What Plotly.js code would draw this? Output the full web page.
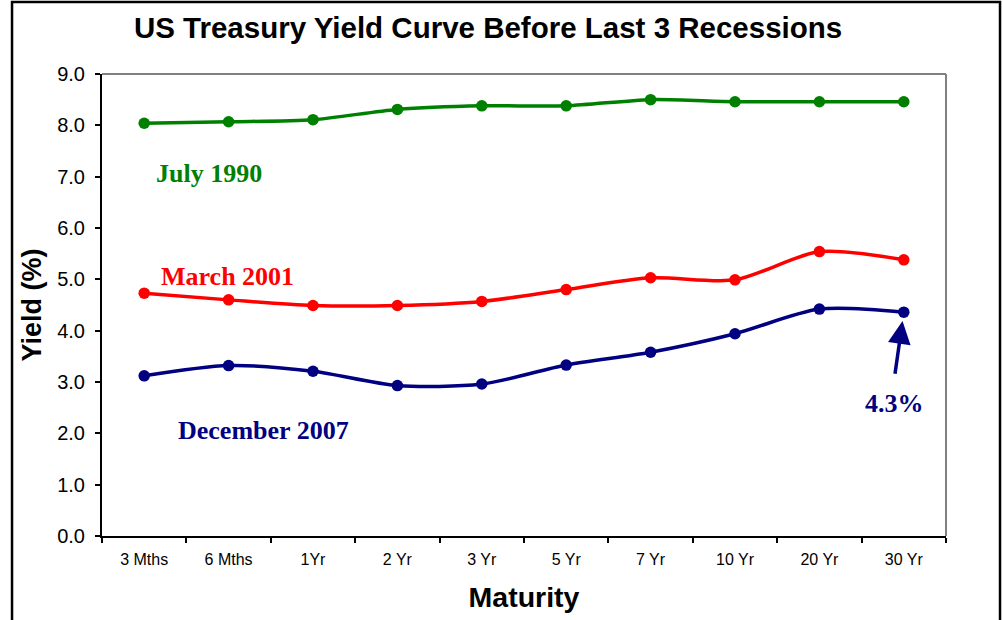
<!DOCTYPE html>
<html>
<head>
<meta charset="utf-8">
<script src="https://cdn.plot.ly/plotly-3.0.1.min.js"></script>
<style>
html,body{margin:0;padding:0;background:#fff;}
#chart{width:1003px;height:620px;}
</style>
</head>
<body>
<div id="chart"></div>
<script>
var maturities = ["3 Mths", "6 Mths", "1Yr", "2 Yr", "3 Yr", "5 Yr", "7 Yr", "10 Yr", "20 Yr", "30 Yr"];
var july1990 = [8.04, 8.07, 8.11, 8.31, 8.38, 8.38, 8.50, 8.46, 8.46, 8.46];
var march2001 = [4.73, 4.60, 4.49, 4.49, 4.57, 4.80, 5.03, 4.99, 5.54, 5.38];
var december2007 = [3.12, 3.32, 3.21, 2.93, 2.96, 3.33, 3.58, 3.94, 4.42, 4.36];
var seriesNames = ["July 1990", "March 2001", "December 2007"];
var seriesColors = ["#008000", "#FF0000", "#000080"];
var yTickVals = [0, 1, 2, 3, 4, 5, 6, 7, 8, 9];
var calloutText = "4.3%";

var seriesData = [july1990, march2001, december2007];
var traces = seriesData.map(function (vals, i) {
  return {
    type: "scatter",
    mode: "lines+markers",
    name: seriesNames[i],
    x: maturities,
    y: vals,
    line: {color: seriesColors[i], width: 3.5, shape: "spline", smoothing: 0.8},
    marker: {color: seriesColors[i], size: 11.5},
    cliponaxis: false
  };
});

var labelFont = function (c) {
  return {family: "Liberation Serif, Times New Roman, serif", size: 26, color: c, weight: "bold"};
};

var layout = {
  width: 1003,
  height: 620,
  margin: {l: 102, r: 57, t: 74, b: 84},
  paper_bgcolor: "#ffffff",
  plot_bgcolor: "#ffffff",
  showlegend: false,
  font: {family: "Liberation Sans, Arial, sans-serif", color: "#000"},
  title: {
    text: "<b>US Treasury Yield Curve Before Last 3 Recessions</b>",
    font: {family: "Liberation Sans, Arial, sans-serif", size: 29.5, color: "#000"},
    xref: "container", x: 0.4866, xanchor: "center",
    yref: "container", y: 0.955, yanchor: "middle"
  },
  xaxis: {
    type: "category",
    range: [-0.5, 9.5],
    showgrid: false,
    zeroline: false,
    showline: true,
    linecolor: "#000",
    linewidth: 2,
    ticks: "outside",
    tickson: "boundaries",
    ticklen: 5,
    tickwidth: 2,
    tickcolor: "#000",
    tickfont: {size: 16, color: "#000"},
    ticklabelstandoff: 8,
    title: {text: "<b>Maturity</b>", font: {size: 28.5, color: "#000"}, standoff: 20}
  },
  yaxis: {
    range: [0, 9],
    tickvals: yTickVals,
    tickformat: ".1f",
    showgrid: false,
    zeroline: false,
    showline: true,
    linecolor: "#000",
    linewidth: 2,
    ticks: "outside",
    ticklen: 5,
    tickwidth: 2,
    tickcolor: "#000",
    tickfont: {size: 20, color: "#000"},
    ticklabelstandoff: 6,
    title: {text: "<b>Yield (%)</b>", font: {size: 27, color: "#000"}, standoff: 8}
  },
  shapes: [
    {type: "line", xref: "paper", yref: "paper", x0: 0, x1: 1, y0: 1, y1: 1, line: {color: "#808080", width: 2}},
    {type: "line", xref: "paper", yref: "paper", x0: 1, x1: 1, y0: 0, y1: 1, line: {color: "#808080", width: 2}},
    {type: "rect", xref: "paper", yref: "paper", x0: -0.1066, x1: 1.064, y0: -0.2, y1: 1.156, line: {color: "#000", width: 2.5}, fillcolor: "rgba(0,0,0,0)"}
  ],
  annotations: [
    {x: 0.768, y: 7.07, xref: "x", yref: "y", text: seriesNames[0], showarrow: false, font: labelFont(seriesColors[0])},
    {x: 0.981, y: 5.065, xref: "x", yref: "y", text: seriesNames[1], showarrow: false, font: labelFont(seriesColors[1])},
    {x: 1.419, y: 2.065, xref: "x", yref: "y", text: seriesNames[2], showarrow: false, font: labelFont(seriesColors[2])},
    {x: 8.884, y: 2.59, xref: "x", yref: "y", text: calloutText, showarrow: false, font: labelFont(seriesColors[2])},
    {x: 9, y: december2007[9], xref: "x", yref: "y", text: "", showarrow: true,
     ax: -9, ay: 63, standoff: 9, arrowhead: 2, arrowsize: 1.3, arrowwidth: 3.5, arrowcolor: seriesColors[2]}
  ]
};

Plotly.newPlot("chart", traces, layout, {displayModeBar: false, staticPlot: true});
</script>
</body>
</html>
